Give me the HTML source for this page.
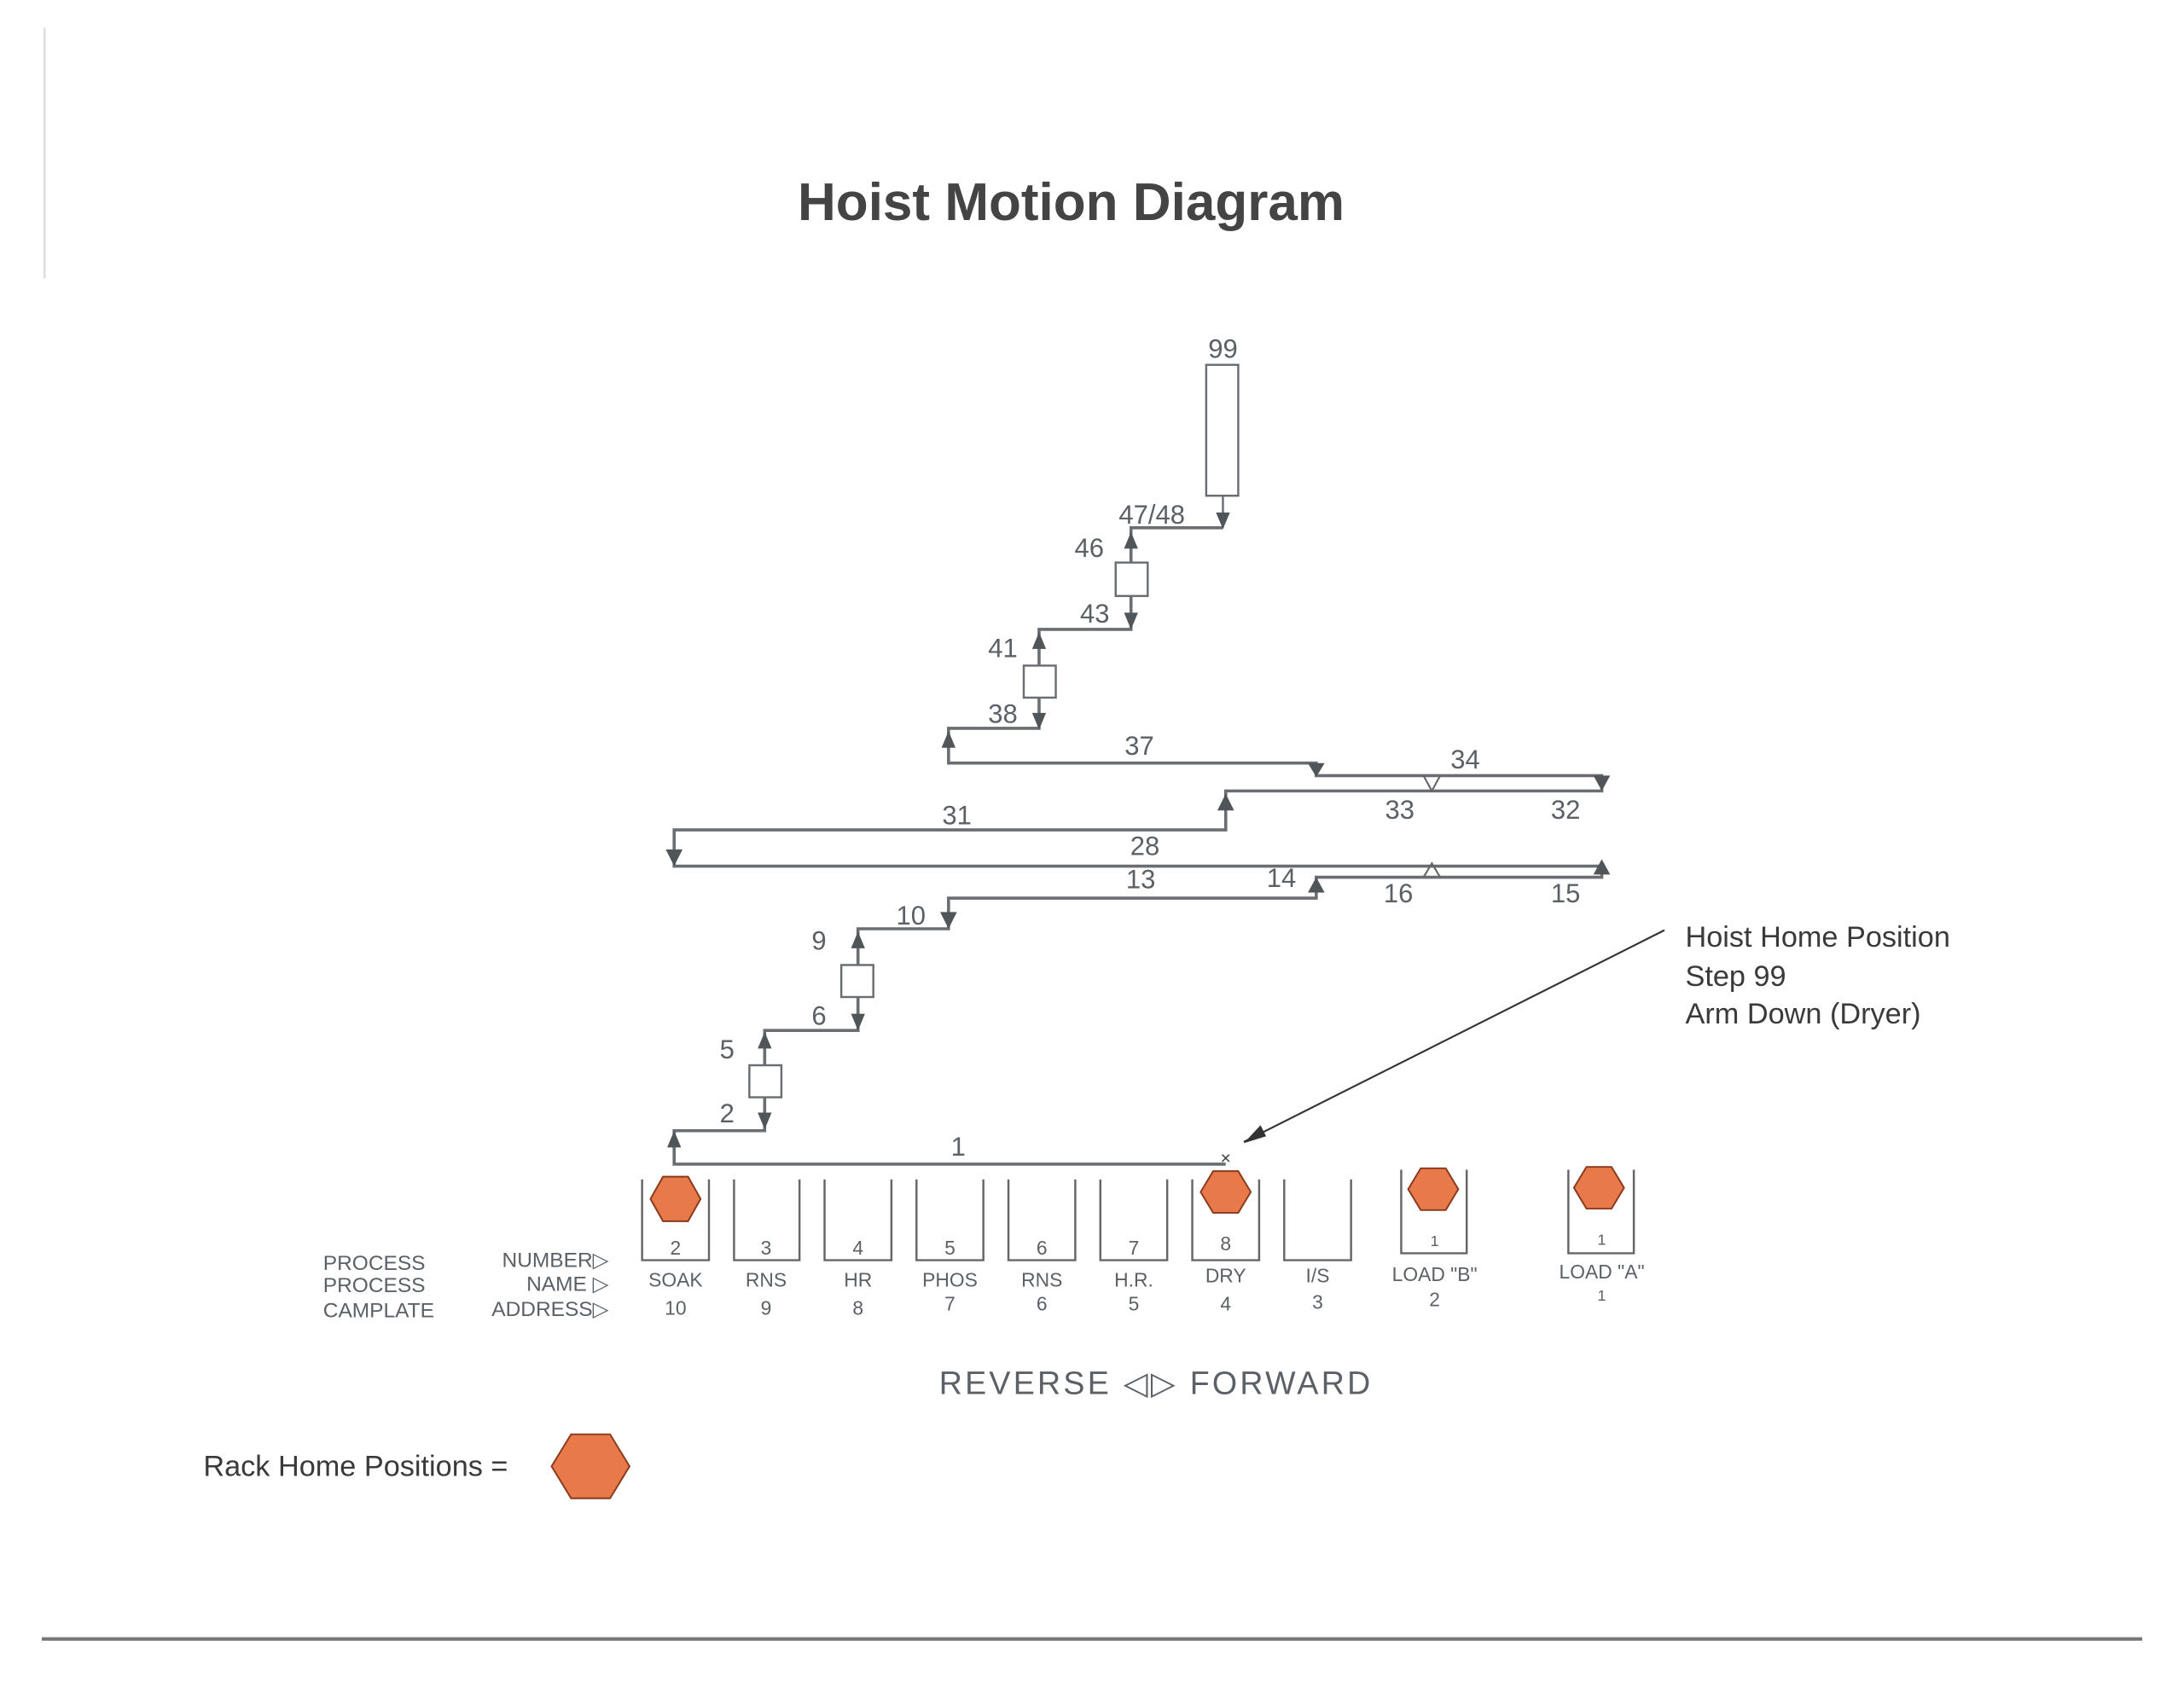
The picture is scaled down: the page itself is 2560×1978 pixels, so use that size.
<!DOCTYPE html>
<html><head><meta charset="utf-8"><style>
html,body{margin:0;padding:0;background:#fff;}
svg{display:block;}
</style></head><body>
<svg width="2560" height="1978" viewBox="0 0 1568 1211.5" preserveAspectRatio="none" xmlns="http://www.w3.org/2000/svg">
<rect width="1568" height="1212" fill="#fff"/>
<line x1="32" y1="20" x2="32" y2="200" stroke="#ddd" stroke-width="1.5"/>
<line x1="30" y1="1177" x2="1538" y2="1177" stroke="#777" stroke-width="2.5"/>
<text x="769" y="158" text-anchor="middle" font-family="Liberation Sans, sans-serif" font-weight="bold" font-size="38" fill="#444">Hoist Motion Diagram</text>

<g stroke="#6a6e72" stroke-width="2.2" fill="none">
<rect x="866" y="262" width="23" height="94" stroke-width="1.5"/>
<line x1="878" y1="356" x2="878" y2="379" stroke-width="1.5"/>
<polyline points="878,379 812,379 812,404"/>
<rect x="801" y="404" width="23" height="24" stroke-width="1.5"/>
<polyline points="812,428 812,452 746,452 746,478"/>
<rect x="735" y="478" width="23" height="23" stroke-width="1.5"/>
<polyline points="746,501 746,523 681,523 681,548 945,548 945,557 1150,557 1150,568 880,568 880,596 484,596 484,622 1150,622 1150,630 945,630 945,645 681,645 681,667 616,667 616,693"/>
<rect x="604" y="693" width="23" height="23" stroke-width="1.5"/>
<polyline points="616,716 616,740 549,740 549,765"/>
<rect x="538" y="765" width="23" height="23" stroke-width="1.5"/>
<polyline points="549,788 549,812 484,812 484,836 880,836"/>
</g>
<g fill="#4f5559">
<path d="M873,368 L883,368 L878,380 z"/>
<path d="M807,394 L817,394 L812,382 z"/>
<path d="M807,440 L817,440 L812,452 z"/>
<path d="M741,466 L751,466 L746,454 z"/>
<path d="M741,512 L751,512 L746,524 z"/>
<path d="M676,537 L686,537 L681,525 z"/>
<path d="M939,548 L951,548 L945,558 z"/>
<path d="M1144,557 L1156,557 L1150,568 z"/>
<path d="M874,582 L886,582 L880,570 z"/>
<path d="M478,610 L490,610 L484,622 z"/>
<path d="M1144,628 L1156,628 L1150,617 z"/>
<path d="M939,641 L951,641 L945,630 z"/>
<path d="M675,655 L687,655 L681,667 z"/>
<path d="M611,681 L621,681 L616,669 z"/>
<path d="M611,728 L621,728 L616,740 z"/>
<path d="M544,753 L554,753 L549,741 z"/>
<path d="M544,799 L554,799 L549,811 z"/>
<path d="M479,824 L489,824 L484,812 z"/>
</g>
<path d="M1022,557 L1028,568 L1034,557" fill="none" stroke="#666" stroke-width="1.3"/>
<path d="M1022,630 L1028,620 L1034,630" fill="none" stroke="#666" stroke-width="1.3"/>
<text x="880" y="836" text-anchor="middle" font-family="Liberation Sans, sans-serif" font-size="13" fill="#444">×</text>

<g font-family="Liberation Sans, sans-serif" font-size="19" fill="#5b6166" text-anchor="middle">
<text x="878" y="257">99</text>
<text x="827" y="376">47/48</text>
<text x="782" y="400">46</text>
<text x="786" y="447">43</text>
<text x="720" y="472">41</text>
<text x="720" y="519">38</text>
<text x="818" y="542">37</text>
<text x="1052" y="552">34</text>
<text x="1005" y="588">33</text>
<text x="1124" y="588">32</text>
<text x="687" y="592">31</text>
<text x="822" y="614">28</text>
<text x="819" y="638">13</text>
<text x="920" y="637">14</text>
<text x="1004" y="648">16</text>
<text x="1124" y="648">15</text>
<text x="654" y="664">10</text>
<text x="588" y="682">9</text>
<text x="588" y="736">6</text>
<text x="522" y="760">5</text>
<text x="522" y="806">2</text>
<text x="688" y="830">1</text>
</g>

<line x1="1195" y1="668" x2="893" y2="820" stroke="#333" stroke-width="1.3"/>
<path d="M893,821 L905,808 L909,816 z" fill="#333"/>
<g font-family="Liberation Sans, sans-serif" font-size="21" fill="#3a3a3a">
<text x="1210" y="680">Hoist Home Position</text>
<text x="1210" y="708">Step 99</text>
<text x="1210" y="735">Arm Down (Dryer)</text>
</g>

<g stroke="#666" stroke-width="1.5" fill="none">
<polyline points="461,847 461,905 509,905 509,847"/>
<polyline points="527,847 527,905 574,905 574,847"/>
<polyline points="592,847 592,905 640,905 640,847"/>
<polyline points="658,847 658,905 706,905 706,847"/>
<polyline points="724,847 724,905 772,905 772,847"/>
<polyline points="790,847 790,905 838,905 838,847"/>
<polyline points="856,847 856,905 904,905 904,847"/>
<polyline points="922,847 922,905 970,905 970,847"/>
<polyline points="1006,840 1006,900 1053,900 1053,840"/>
<polyline points="1126,840 1126,900 1173,900 1173,840"/>
</g>
<g fill="#e8794a" stroke="#8a3a1c" stroke-width="1.2">
<polygon points="467,861 476,845 494,845 503,861 494,877 476,877"/>
<polygon points="862,856 871,841 889,841 898,856 889,871 871,871"/>
<polygon points="1011,854 1020,839 1038,839 1047,854 1038,869 1020,869"/>
<polygon points="1130,853 1139,838 1157,838 1166,853 1157,868 1139,868"/>
<polygon points="396,1053 410,1030 438,1030 452,1053 438,1076 410,1076"/>
</g>

<g font-family="Liberation Sans, sans-serif" font-size="14" fill="#5b6166" text-anchor="middle">
<text x="485" y="901">2</text><text x="550" y="901">3</text><text x="616" y="901">4</text><text x="682" y="901">5</text><text x="748" y="901">6</text><text x="814" y="901">7</text><text x="880" y="898">8</text><text x="1030" y="895" font-size="11">1</text><text x="1150" y="894" font-size="11">1</text>
<text x="485" y="924">SOAK</text><text x="550" y="924">RNS</text><text x="616" y="924">HR</text><text x="682" y="924">PHOS</text><text x="748" y="924">RNS</text><text x="814" y="924">H.R.</text><text x="880" y="921">DRY</text><text x="946" y="921">I/S</text><text x="1030" y="920">LOAD "B"</text><text x="1150" y="918">LOAD "A"</text>
<text x="485" y="944">10</text><text x="550" y="944">9</text><text x="616" y="944">8</text><text x="682" y="941">7</text><text x="748" y="941">6</text><text x="814" y="941">5</text><text x="880" y="941">4</text><text x="946" y="940">3</text><text x="1030" y="938">2</text><text x="1150" y="934" font-size="11">1</text>
</g>
<g font-family="Liberation Sans, sans-serif" font-size="15" fill="#5b6166">
<text x="232" y="912">PROCESS</text><text x="232" y="928">PROCESS</text><text x="232" y="946">CAMPLATE</text>
<text x="437" y="910" text-anchor="end">NUMBER▷</text>
<text x="437" y="927" text-anchor="end">NAME ▷</text>
<text x="437" y="945" text-anchor="end">ADDRESS▷</text>
</g>
<text x="830" y="1001" text-anchor="middle" font-family="Liberation Sans, sans-serif" font-size="23" letter-spacing="2" fill="#5b6166">REVERSE ◁▷ FORWARD</text>
<text x="146" y="1060" font-family="Liberation Sans, sans-serif" font-size="21" fill="#3a3a3a">Rack Home Positions =</text>
</svg>
</body></html>
